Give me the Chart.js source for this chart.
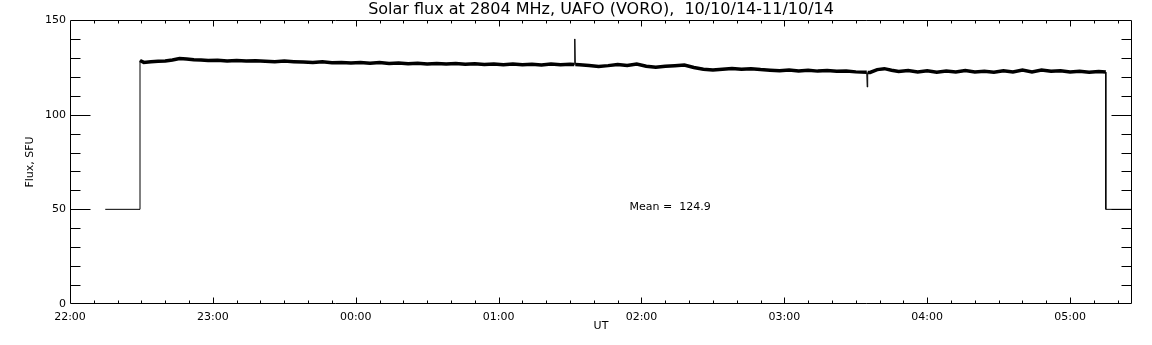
<!DOCTYPE html>
<html><head><meta charset="utf-8">
<script src="https://cdn.jsdelivr.net/npm/chart.js@4.4.1/dist/chart.umd.min.js"></script>
<style>html,body{margin:0;padding:0;background:#fff;}canvas{display:block;}</style>
</head><body>
<canvas id="c" width="1152" height="345"></canvas>
<script>
const titleText = 'Solar flux at 2804 MHz, UAFO (VORO),  10/10/14-11/10/14';
const xTickMinutes = [0, 60, 120, 180, 240, 300, 360, 420];
const xTickLabels = ['22:00', '23:00', '00:00', '01:00', '02:00', '03:00', '04:00', '05:00'];
const yTickValues = [0, 50, 100, 150];
const meanLabel = 'Mean =  124.9';
const meanPos = [235, 51.4];

// minutes after 22:00 UT
const minutes = [14.8, 29.4, 29.4, 31, 34, 37, 40, 43, 46, 49, 52, 55, 58, 62, 66, 70, 74, 78, 82, 86, 90, 94, 98, 102, 106, 110, 114, 118, 122, 126, 130, 134, 138, 142, 146, 150, 154, 158, 162, 166, 170, 174, 178, 182, 186, 190, 194, 198, 202, 206, 210, 211.8, 212, 212.2, 214, 218, 222, 226, 230, 234, 238, 242, 246, 250, 254, 258, 262, 266, 270, 274, 278, 282, 286, 290, 294, 298, 302, 306, 310, 314, 318, 322, 326, 330, 334.6, 334.8, 335, 336, 339, 342, 345, 348, 352, 356, 360, 364, 368, 372, 376, 380, 384, 388, 392, 396, 400, 404, 408, 412, 416, 420, 424, 428, 432, 435, 435, 446];
// flux, SFU
const flux = [50, 50, 128.6, 127.6, 127.9, 128.2, 128.3, 128.9, 129.6, 129.4, 129.0, 128.9, 128.6, 128.7, 128.4, 128.6, 128.3, 128.5, 128.2, 128.0, 128.3, 128.0, 127.8, 127.5, 127.9, 127.4, 127.6, 127.3, 127.6, 127.2, 127.5, 127.0, 127.3, 126.9, 127.2, 126.8, 127.0, 126.7, 127.0, 126.6, 126.9, 126.5, 126.8, 126.4, 126.7, 126.4, 126.6, 126.3, 126.7, 126.4, 126.6, 126.5, 140, 126.5, 126.4, 126.0, 125.5, 125.9, 126.5, 126.0, 126.8, 125.6, 125.0, 125.6, 125.9, 126.2, 124.9, 124.0, 123.6, 124.0, 124.4, 124.0, 124.3, 123.8, 123.5, 123.2, 123.6, 123.1, 123.4, 123.0, 123.3, 122.9, 123.1, 122.6, 122.4, 114.6, 122.3, 122.3, 123.8, 124.3, 123.5, 122.8, 123.3, 122.6, 123.2, 122.4, 123.0, 122.5, 123.3, 122.6, 122.9, 122.4, 123.2, 122.5, 123.6, 122.6, 123.6, 122.9, 123.2, 122.5, 122.9, 122.4, 122.8, 122.5, 50, 50];

const FONT = 'DejaVu Sans';

const idlAxes = {
  id: 'idlAxes',
  afterDatasetsDraw(chart) {
    const {ctx, chartArea: a, scales: {x, y}} = chart;
    ctx.save();
    ctx.strokeStyle = '#000';
    ctx.lineWidth = 1;
    const L = a.left + 0.5, R = a.right - 0.5, T = a.top + 0.5, B = a.bottom - 0.5;
    ctx.beginPath();
    ctx.rect(L, T, R - L, B - T);
    for (let v = y.min + 10; v < y.max; v += 10) {
      const py = Math.round(y.getPixelForValue(v)) + 0.5;
      const len = (v % 50 === 0) ? 20 : 10;
      ctx.moveTo(L, py); ctx.lineTo(L + len, py);
      ctx.moveTo(R, py); ctx.lineTo(R - len, py);
    }
    for (let m = 10; m < x.max; m += 10) {
      const px = Math.round(x.getPixelForValue(m)) + 0.5;
      const len = (m % 60 === 0) ? 6 : 3;
      ctx.moveTo(px, B); ctx.lineTo(px, B - len);
      ctx.moveTo(px, T); ctx.lineTo(px, T + len);
    }
    ctx.stroke();
    ctx.fillStyle = '#000';
    ctx.font = '11px "' + FONT + '"';
    ctx.textBaseline = 'middle';
    ctx.textAlign = 'left';
    ctx.fillText(meanLabel, x.getPixelForValue(meanPos[0]), y.getPixelForValue(meanPos[1]));
    ctx.restore();
  }
};

new Chart(document.getElementById('c'), {
  type: 'line',
  data: {
    datasets: [{
      data: minutes.map((m, i) => ({x: m, y: flux[i]})),
      borderColor: '#000',
      borderWidth: 3.5,
      pointRadius: 0,
      tension: 0,
      segment: {
        borderWidth: c => (Math.abs(c.p0.parsed.y - c.p1.parsed.y) > 4 || Math.min(c.p0.parsed.y, c.p1.parsed.y) < 100) ? 1 : 3.5
      }
    }]
  },
  options: {
    responsive: false,
    animation: false,
    devicePixelRatio: 1,
    layout: {padding: {left: 0, right: 20, top: 0, bottom: 0}},
    plugins: {
      legend: {display: false},
      tooltip: {enabled: false},
      title: {
        display: true, text: titleText, color: '#000', fullSize: false,
        font: {family: FONT, size: 16, weight: 'normal'},
        padding: {top: 0.6, bottom: 0.2}
      }
    },
    scales: {
      x: {
        type: 'linear', min: 0, max: 446,
        grid: {display: false, drawTicks: false},
        border: {display: false},
        afterBuildTicks: s => { s.ticks = xTickMinutes.map(v => ({value: v})); },
        afterFit: s => { s.height = 41; },
        ticks: {
          color: '#000', font: {family: FONT, size: 11}, padding: 7, maxRotation: 0, autoSkip: false,
          callback: v => xTickLabels[xTickMinutes.indexOf(v)]
        },
        title: {display: true, text: 'UT', color: '#000', font: {family: FONT, size: 11}, padding: {top: 0, bottom: 12.4}}
      },
      y: {
        type: 'linear', min: 0, max: 150,
        grid: {display: false, drawTicks: false},
        border: {display: false},
        afterBuildTicks: s => { s.ticks = yTickValues.map(v => ({value: v})); },
        afterFit: s => { s.width = 70; },
        ticks: {color: '#000', font: {family: FONT, size: 11}, padding: 4, callback: v => String(v)},
        title: {display: true, text: 'Flux, SFU', color: '#000', font: {family: FONT, size: 11}, padding: {top: 23.4, bottom: 0}}
      }
    }
  },
  plugins: [idlAxes]
});
</script>
</body></html>
